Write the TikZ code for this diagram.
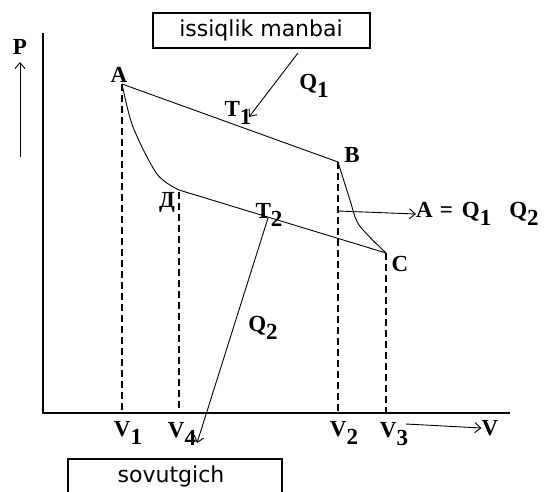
\documentclass[tikz,border=0pt]{standalone}
\usepackage{fontspec}
\setmainfont{Liberation Serif}
\newfontfamily\boxfont{DejaVu Sans}
\usetikzlibrary{arrows.meta}
\newcommand\sbs[1]{\raisebox{-0.32em}{#1}}
\begin{document}
\begin{tikzpicture}[x=1pt,y=-1pt,
  lbl/.style={font=\fontsize{23}{25}\selectfont\bfseries, inner sep=0pt},
  thinline/.style={line width=0.9pt},
  axisline/.style={line width=2.4pt},
  dashline/.style={line width=2.3pt, dash pattern=on 7pt off 4pt},
  barb/.style={-{Straight Barb[length=6pt,width=10pt]}, line width=0.9pt},
  boxline/.style={line width=2pt},
  boxtext/.style={font=\boxfont\fontsize{22}{24}\selectfont, inner sep=0pt}
]
\useasboundingbox (0,0) rectangle (545,491);
\fill[white] (0,0) rectangle (545,491);

% boxes
\node[boxtext, draw, boxline, minimum width=217pt, minimum height=35pt] (src) at (261,30.5) {issiqlik manbai};
\node[boxtext] (sov) at (171,476) {sovutgich};
\draw[boxline] (68,495) |- (282,459) -- (282,495);

% axes
\coordinate (ytop) at (42.7,33);
\coordinate (O) at (42.7,413);
\coordinate (xend) at (510,413);
\draw[axisline] (ytop) -- (O) -- (xend);

% cycle points
\coordinate (A) at (122,84);
\coordinate (B) at (338,162);
\coordinate (C) at (386,253);
\coordinate (D) at (179,190);
\coordinate (a1) at (133,127);
\coordinate (a2) at (157,174);
\coordinate (b1) at (350,200);
\coordinate (b2) at (359,225);

\draw[thinline] (A) -- (B);
\draw[thinline] (D) -- (C);
\draw[thinline] plot[smooth, tension=0.5] coordinates {(A) (a1) (a2) (D)};
\draw[thinline] plot[smooth, tension=0.5] coordinates {(B) (b1) (b2) (C)};

% dashed verticals
\coordinate (V1f) at (122,413);
\coordinate (V4f) at (179,413);
\coordinate (V2f) at (338,413);
\coordinate (V3f) at (386,413);
\coordinate (Dd) at (179,192);
\draw[dashline] (A) -- (V1f);
\draw[dashline] (Dd) -- (V4f);
\draw[dashline] (B) -- (V2f);
\draw[dashline] (C) -- (V3f);

% arrows
\coordinate (Pb) at (20,157);
\coordinate (Pt) at (20,62);
\draw[barb] (Pb) -- (Pt);
\coordinate (q1s) at (298,53);
\coordinate (q1e) at (249,117);
\draw[barb] (q1s) -- (q1e);
\coordinate (q2s) at (268,218);
\coordinate (q2e) at (197,443);
\draw[barb] (q2s) -- (q2e);
\coordinate (ws) at (338,211);
\node[lbl, anchor=west] (work) at (416,214) {A\hspace{7pt}=\hspace{9pt}Q\sbs{1}\hspace{18pt}Q\sbs{2}};
\draw[barb] (ws) -- (work.west);
\coordinate (vs) at (406,424);
\node[lbl] (V) at (490,428) {V};
\draw[barb] (vs) -- (V.west);

% labels
\node[lbl] (Plbl) at (20,47) {P};
\node[lbl] (Albl) at (119,75) {A};
\node[lbl] (Blbl) at (352,155) {B};
\node[lbl] (Clbl) at (400,264) {C};
\node[lbl] (Dlbl) at (167,202) {Д};
\node[lbl] (T1) at (238,113) {T\sbs{1}};
\node[lbl] (Q1) at (314,86) {Q\sbs{1}};
\node[lbl] (T2) at (269,215) {T\sbs{2}};
\node[lbl] (Q2) at (263,328) {Q\sbs{2}};
\node[lbl] (V1) at (128,433) {V\sbs{1}};
\node[lbl] (V4) at (182,434) {V\sbs{4}};
\node[lbl] (V2) at (344,433) {V\sbs{2}};
\node[lbl] (V3) at (394,434) {V\sbs{3}};
\end{tikzpicture}
\end{document}
